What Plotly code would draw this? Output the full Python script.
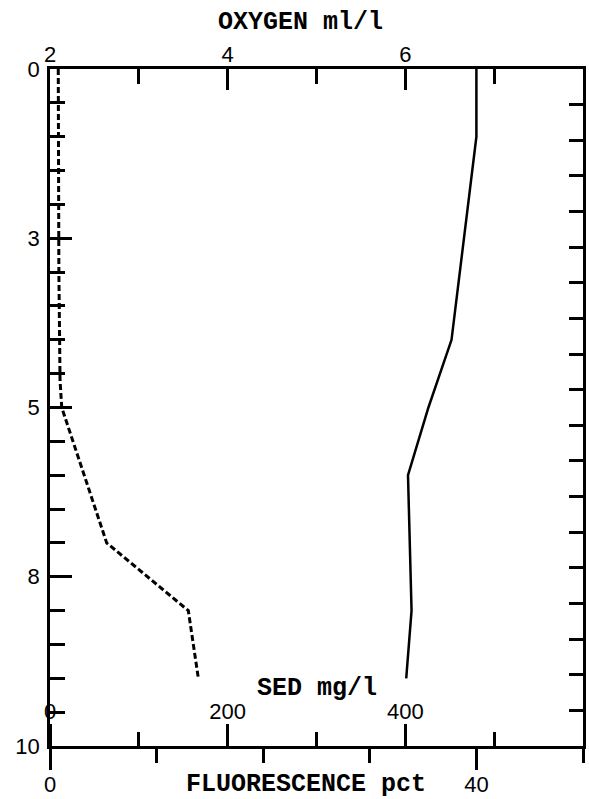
import plotly.graph_objects as go

# ---- data ----
depth_oxygen = [0, 1, 4, 5, 6, 8, 9]
oxygen = [6.80, 6.80, 6.52, 6.26, 6.03, 6.07, 6.01]

depth_sed = [0, 3, 4.6, 5, 7, 8, 9]
sed = [9.3, 10.0, 11.3, 13.2, 63.8, 155.7, 167.0]

depth_ticks = [0, 2.5, 5, 7.5, 10]
depth_ticktext = ["0", "3", "5", "8", "10"]
depth_minor = [0.5, 1, 1.5, 2, 3, 3.5, 4, 4.5, 5.5, 6, 6.5, 7, 8, 8.5, 9, 9.5]

oxy_ticks = [2, 4, 6, 8]
oxy_minor = [3, 5, 7]
sed_ticks = [0, 200, 400]
sed_minor = [100, 300, 500]
fl_ticks = [0, 40]
fl_minor = [10, 20, 30, 50]

LBL = dict(family="Liberation Sans", size=22, color="black")
TTL = dict(family="Liberation Mono", size=25, color="black")
LW = 2.5

fig = go.Figure()
fig.add_trace(go.Scatter(x=oxygen, y=depth_oxygen, mode="lines", xaxis="x", yaxis="y",
                         line=dict(color="black", width=2.5), showlegend=False, hoverinfo="skip"))
fig.add_trace(go.Scatter(x=sed, y=depth_sed, mode="lines", xaxis="x2", yaxis="y",
                         line=dict(color="black", width=3, dash="6px,3px"), showlegend=False, hoverinfo="skip"))
fig.add_trace(go.Scatter(x=[None], y=[None], mode="lines", xaxis="x3", yaxis="y2",
                         showlegend=False, hoverinfo="skip"))

common = dict(showgrid=False, zeroline=False, automargin=False)

fig.update_layout(
    width=589, height=799,
    margin=dict(l=50, r=6, t=69, b=53),
    paper_bgcolor="white", plot_bgcolor="white",
    xaxis=dict(domain=[0, 1], range=[2, 8], side="top", anchor="y",
               tickmode="array", tickvals=oxy_ticks, ticktext=[str(v) for v in oxy_ticks],
               ticks="inside", ticklen=21, tickwidth=LW, tickcolor="black",
               minor=dict(tickmode="array", tickvals=oxy_minor, ticks="inside", ticklen=15,
                          tickwidth=LW, tickcolor="black"),
               ticklabelstandoff=-5,
               showline=True, linecolor="black", linewidth=LW, tickfont=LBL, **common),
    xaxis2=dict(domain=[0, 1], range=[0, 600], overlaying="x", anchor="free", position=0, side="top",
                tickmode="array", tickvals=sed_ticks, ticktext=[str(v) for v in sed_ticks],
                ticks="outside", ticklen=22, tickwidth=LW, tickcolor="black",
                minor=dict(tickmode="array", tickvals=sed_minor, ticks="outside", ticklen=14,
                           tickwidth=LW, tickcolor="black"),
                ticklabelstandoff=-4,
                showline=False, tickfont=LBL, **common),
    xaxis3=dict(domain=[0, 1], range=[0, 50], overlaying="x", anchor="y", side="bottom",
                tickmode="array", tickvals=fl_ticks, ticktext=[str(v) for v in fl_ticks],
                ticks="outside", ticklen=21, tickwidth=LW, tickcolor="black",
                minor=dict(tickmode="array", tickvals=fl_minor, ticks="outside", ticklen=14,
                           tickwidth=LW, tickcolor="black"),
                ticklabelstandoff=-4,
                showline=True, linecolor="black", linewidth=LW, tickfont=LBL, **common),
    yaxis=dict(domain=[0, 1], range=[10, 0], side="left", anchor="x",
               tickmode="array", tickvals=depth_ticks, ticktext=depth_ticktext,
               ticks="inside", ticklen=22, tickwidth=LW, tickcolor="black",
               minor=dict(tickmode="array", tickvals=depth_minor, ticks="inside", ticklen=15,
                          tickwidth=LW, tickcolor="black"),
               ticklabelstandoff=3,
               showline=True, linecolor="black", linewidth=LW, tickfont=LBL, **common),
    yaxis2=dict(domain=[0, 1], range=[19, 0], overlaying="y", side="right", anchor="x",
                tickmode="linear", tick0=0, dtick=1, showticklabels=False,
                ticks="inside", ticklen=14, tickwidth=LW, tickcolor="black",
                showline=True, linecolor="black", linewidth=LW, **common),
    annotations=[
        dict(text="<b>OXYGEN ml/l</b>", x=300, y=22, xref="paper", yref="paper", showarrow=False,
             font=TTL, xanchor="center", yanchor="middle"),
        dict(text="<b>SED mg/l</b>", x=317, y=688, xref="paper", yref="paper", showarrow=False,
             font=TTL, xanchor="center", yanchor="middle"),
        dict(text="<b>FLUORESCENCE pct</b>", x=306, y=784, xref="paper", yref="paper", showarrow=False,
             font=TTL, xanchor="center", yanchor="middle"),
    ],
)

# convert pixel positions of titles to paper coordinates
pw, ph = 589 - 50 - 6, 799 - 69 - 53
for a in fig.layout.annotations:
    px, py = a.x, a.y
    a.x = (px - 50) / pw
    a.y = 1 - (py - 69) / ph

fig.write_html("out.html", config={"displayModeBar": False},
               post_script="document.body.style.margin='0';")
